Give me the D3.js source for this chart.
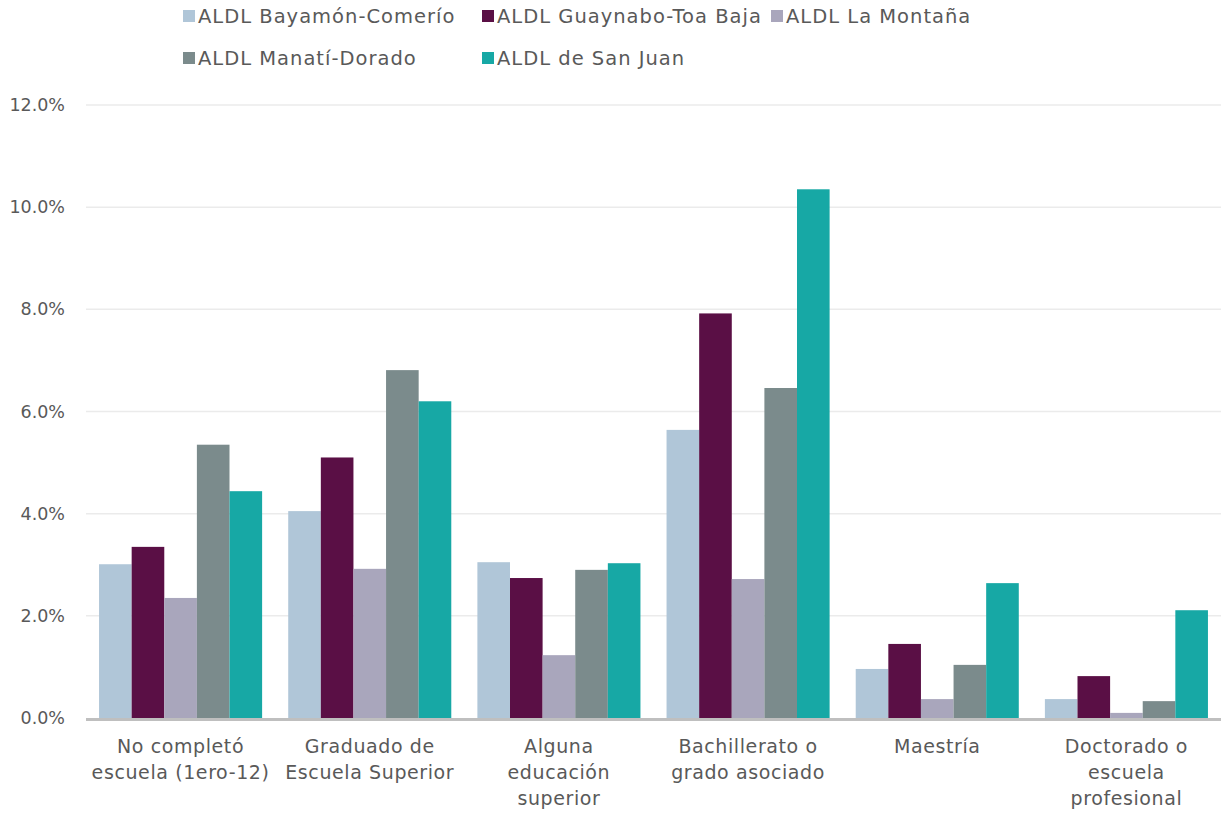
<!DOCTYPE html>
<html><head><meta charset="utf-8">
<script src="https://cdn.jsdelivr.net/npm/d3@7"></script>
<style>body{margin:0;background:#fff;} text{font-family:"DejaVu Sans",sans-serif;}</style>
</head><body>
<svg id="chart" width="1225" height="813"></svg>
<script>
const categories = [
  ["No completó","escuela (1ero-12)"],
  ["Graduado de","Escuela Superior"],
  ["Alguna","educación","superior"],
  ["Bachillerato o","grado asociado"],
  ["Maestría"],
  ["Doctorado o","escuela","profesional"]
];
const seriesNames = ["ALDL Bayamón-Comerío","ALDL Guaynabo-Toa Baja","ALDL La Montaña","ALDL Manatí-Dorado","ALDL de San Juan"];
const seriesColors = ["#B0C6D8","#5A0F45","#A9A6BC","#7B8B8C","#17A8A5"];
const bayamon  = [3.01, 4.05, 3.05, 5.64, 0.96, 0.37];
const guaynabo = [3.35, 5.10, 2.74, 7.92, 1.45, 0.82];
const montana  = [2.35, 2.92, 1.23, 2.72, 0.37, 0.10];
const manati   = [5.35, 6.81, 2.90, 6.46, 1.04, 0.33];
const sanjuan  = [4.44, 6.20, 3.03, 10.35, 2.64, 2.11];
const seriesValues = [bayamon, guaynabo, montana, manati, sanjuan];
const yTicks = [0,2,4,6,8,10,12];

const svg = d3.select("#chart");
const pLeft = 86, pRight = 1221, pTop = 105, pBottom = 718;
const x0 = d3.scaleBand().domain(d3.range(categories.length)).range([pLeft, pRight]).paddingInner(0.138).paddingOuter(0.069);
const x1 = d3.scaleBand().domain(d3.range(seriesNames.length)).range([0, x0.bandwidth()]);
const y = d3.scaleLinear().domain([0,12]).range([pBottom, pTop]);

// gridlines
svg.append("g").selectAll("line").data(yTicks.filter(d=>d>0)).join("line")
  .attr("x1", pLeft).attr("x2", pRight).attr("y1", d=>y(d)).attr("y2", d=>y(d))
  .attr("stroke", "#EBEBEB").attr("stroke-width", 1.5);

// y axis
const yAxis = d3.axisLeft(y).tickValues(yTicks).tickFormat(d=>d.toFixed(1)+"%").tickSize(0).tickPadding(0);
const ya = svg.append("g").attr("transform", `translate(${65},0)`).call(yAxis);
ya.select(".domain").remove();
ya.selectAll("text").attr("fill","#595959").style("font-size","17.5px").style("font-family","DejaVu Sans");

// bars
const groups = svg.append("g").selectAll("g").data(categories).join("g")
  .attr("transform", (d,i)=>`translate(${x0(i)},0)`);
groups.selectAll("rect").data((d,i)=>seriesValues.map((s,j)=>({j, v:s[i]}))).join("rect")
  .attr("x", d=>x1(d.j)).attr("width", x1.bandwidth())
  .attr("y", d=>y(d.v)).attr("height", d=>pBottom - y(d.v))
  .attr("fill", d=>seriesColors[d.j]);

// baseline
svg.append("line").attr("x1", pLeft).attr("x2", pRight).attr("y1", pBottom+1.5).attr("y2", pBottom+1.5)
  .attr("stroke", "#BFBFBF").attr("stroke-width", 3);

// x labels
const xl = svg.append("g").selectAll("text").data(categories).join("text")
  .attr("x", (d,i)=>x0(i)+x0.bandwidth()/2).attr("y", 753)
  .attr("text-anchor","middle").attr("fill","#595959").style("font-size","19px").style("letter-spacing","0.6px");
xl.selectAll("tspan").data(d=>d).join("tspan")
  .attr("x", function(){return this.parentNode.getAttribute("x");})
  .attr("dy", (d,i)=>i===0?0:26).text(d=>d);

// legend
const legPos = [[183,16],[482,16],[771,16],[183,58],[482,58]];
const leg = svg.append("g").selectAll("g").data(seriesNames).join("g")
  .attr("transform", (d,i)=>`translate(${legPos[i][0]},${legPos[i][1]})`);
leg.append("rect").attr("x",0).attr("y",-6).attr("width",12).attr("height",12).attr("fill",(d,i)=>seriesColors[i]);
leg.append("text").attr("x",15).attr("y",0).attr("dy","0.35em").attr("fill","#595959").style("font-size","19.5px").style("letter-spacing","1.0px").text(d=>d);
</script>
</body></html>
